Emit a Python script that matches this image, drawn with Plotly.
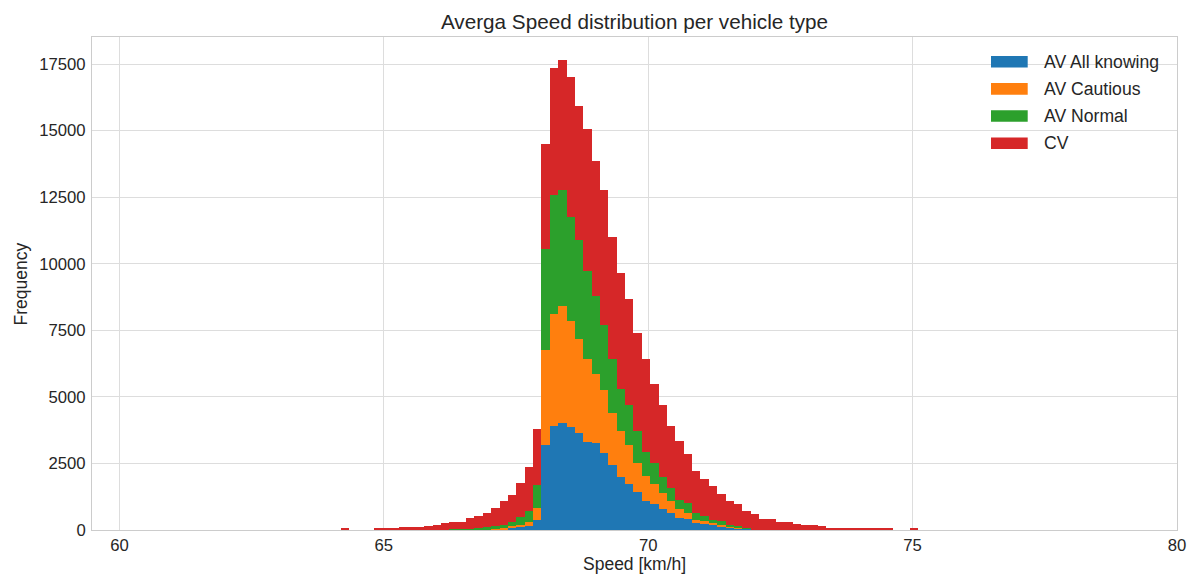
import plotly.graph_objects as go

# ---- data (stacked histogram counts, common bins) ----
bin_start = 64.18
bin_width = 0.1583
series_names = ["AV All knowing", "AV Cautious", "AV Normal", "CV"]
series_colors = ["#1f77b4", "#ff7f0e", "#2ca02c", "#d62728"]

av_all_knowing = [
    0, 0, 0, 0, 0, 0, 0, 0, 0, 0,
    0, 0, 0, 0, 0, 0, 0, 0, 10, 30,
    75, 100, 165, 390, 3200, 3890, 4025, 3850, 3640, 3290,
    3250, 2900, 2425, 1990, 1740, 1440, 1090, 980, 800, 645,
    460, 410, 260, 215, 175, 135, 110, 65, 40, 0,
    0, 0, 0, 0, 0, 0, 0, 0, 0, 0,
    0, 0, 0, 0, 0, 0, 0, 0, 0,
]
av_cautious = [
    0, 0, 0, 0, 0, 0, 0, 0, 0, 0,
    0, 0, 0, 0, 0, 0, 0, 10, 20, 50,
    75, 100, 145, 440, 3550, 4210, 4375, 4000, 3535, 3150,
    2600, 2340, 1985, 1720, 1450, 1060, 940, 735, 575, 445,
    345, 235, 130, 125, 75, 65, 25, 25, 10, 0,
    0, 0, 0, 0, 0, 0, 0, 0, 0, 0,
    0, 0, 0, 0, 0, 0, 0, 0, 0,
]
av_normal = [
    0, 0, 0, 0, 0, 0, 0, 0, 0, 0,
    0, 0, 0, 20, 25, 40, 70, 90, 110, 100,
    150, 280, 390, 850, 3790, 4475, 4360, 3900, 3700, 3270,
    2940, 2470, 2015, 1600, 1500, 1210, 905, 815, 625, 470,
    320, 355, 250, 200, 125, 140, 40, 55, 40, 0,
    0, 0, 0, 0, 0, 0, 0, 0, 0, 0,
    0, 0, 0, 0, 0, 0, 0, 0, 0,
]
cv = [
    50, 0, 0, 0, 50, 50, 50, 100, 100, 100,
    150, 190, 245, 270, 265, 410, 458, 530, 680, 900,
    1020, 1290, 1660, 2100, 3970, 4775, 4880, 5250, 5065, 5350,
    5050, 5065, 4585, 4350, 4000, 3700, 3485, 2970, 2705, 2360,
    2215, 1840, 1570, 1370, 1280, 1020, 930, 823, 640, 590,
    430, 430, 315, 315, 240, 190, 190, 140, 90, 90,
    40, 40, 40, 40, 40, 40, 0, 0, 40,
]
series_values = [av_all_knowing, av_cautious, av_normal, cv]

x_ticks = [60, 65, 70, 75, 80]
y_ticks = [0, 2500, 5000, 7500, 10000, 12500, 15000, 17500]

n_bins = len(cv)
bin_centers = [bin_start + (i + 0.5) * bin_width for i in range(n_bins)]

FONT = "Liberation Sans, Arial, Helvetica, sans-serif"
TXT = "#262626"

fig = go.Figure()
for name, color, vals in zip(series_names, series_colors, series_values):
    fig.add_trace(go.Bar(
        x=bin_centers, y=vals, width=bin_width, name=name,
        marker=dict(color=color, line=dict(width=0)),
        showlegend=False,
    ))

# plot area in pixels (for manual legend / label placement)
W, H = 1193, 576
L, R, T, B = 92, 1177, 37, 530

def px_x(p):
    return (p - L) / (R - L)

def px_y(p):
    return (B - p) / (B - T)

shapes = []
annotations = []
legend_centers = [61.8, 88.9, 116.0, 143.2]
for name, color, cy in zip(series_names, series_colors, legend_centers):
    shapes.append(dict(type="rect", xref="paper", yref="paper",
                       x0=px_x(991), x1=px_x(1027.7),
                       y0=px_y(cy + 5.8), y1=px_y(cy - 5.8),
                       fillcolor=color, line=dict(width=0)))
    annotations.append(dict(xref="paper", yref="paper", x=px_x(1042), y=px_y(cy),
                            xanchor="left", yanchor="middle", showarrow=False,
                            text=name, font=dict(family=FONT, size=17.6, color=TXT)))

# axis titles
annotations.append(dict(xref="paper", yref="paper", x=px_x((L + R) / 2), y=px_y(564),
                        xanchor="center", yanchor="middle", showarrow=False,
                        text="Speed [km/h]", font=dict(family=FONT, size=17.5, color=TXT)))
annotations.append(dict(xref="paper", yref="paper", x=px_x(20), y=px_y((T + B) / 2),
                        xanchor="center", yanchor="middle", showarrow=False, textangle=-90,
                        text="Frequency", font=dict(family=FONT, size=17.5, color=TXT)))

fig.update_layout(
    width=W, height=H,
    margin=dict(l=L, r=W - R, t=T, b=H - B, pad=0, autoexpand=False),
    paper_bgcolor="white", plot_bgcolor="white",
    barmode="stack", bargap=0,
    title=dict(text="Averga Speed distribution per vehicle type",
               x=(L + R) / 2 / W, xanchor="center",
               y=1 - 22 / H, yanchor="middle",
               font=dict(family=FONT, size=20.7, color=TXT)),
    font=dict(family=FONT, color=TXT),
    shapes=shapes, annotations=annotations,
)
fig.update_xaxes(
    range=[59.48, 80.0], tickvals=x_ticks, ticktext=[str(v) for v in x_ticks],
    showgrid=True, gridcolor="#dddddd", gridwidth=1, zeroline=False,
    showline=True, linecolor="#cccccc", linewidth=1, mirror=True,
    ticks="", tickfont=dict(family=FONT, size=16.7, color=TXT), automargin=False,
)
fig.update_yaxes(
    range=[0, 18515], tickvals=y_ticks, ticktext=[str(v) for v in y_ticks],
    showgrid=True, gridcolor="#dddddd", gridwidth=1, zeroline=False,
    showline=True, linecolor="#cccccc", linewidth=1, mirror=True,
    ticks="", tickfont=dict(family=FONT, size=16.7, color=TXT), automargin=False,
    ticklabelstandoff=2,
)

fig.write_html("out.html")
